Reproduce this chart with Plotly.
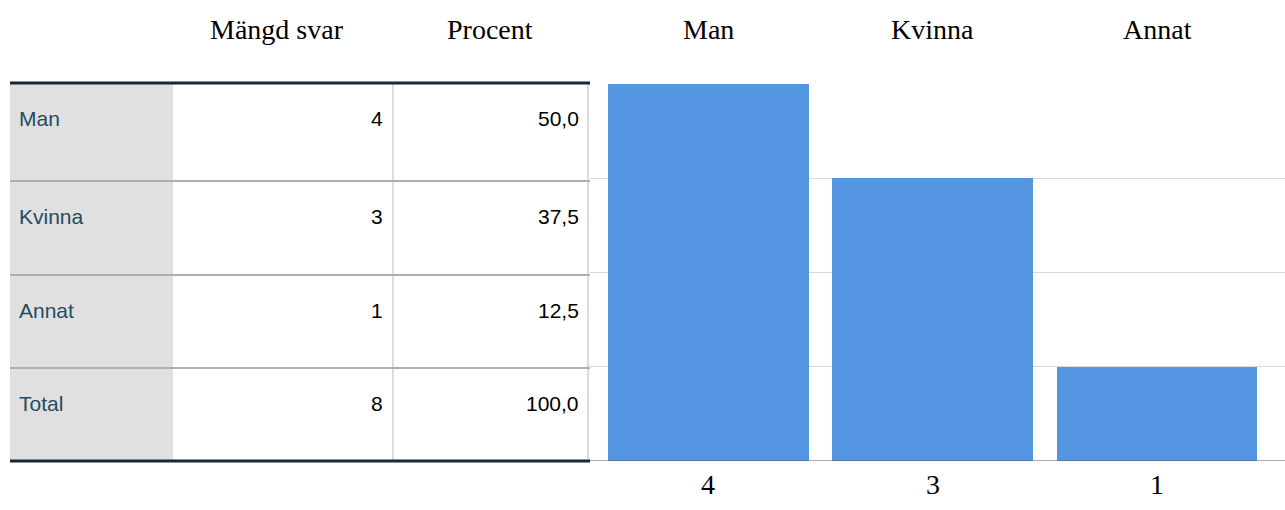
import plotly.graph_objects as go

# Survey answers: gender distribution
categories = ["Man", "Kvinna", "Annat"]
counts = [4, 3, 1]
row_labels = ["Man", "Kvinna", "Annat", "Total"]
row_counts = [4, 3, 1, 8]
row_percents = [50.0, 37.5, 12.5, 100.0]
column_headers = ["Mängd svar", "Procent"]

W, H = 1285, 510
BAR_COLOR = "#5596e3"
LABEL_COLOR = "#264a60"
SERIF = "Liberation Serif, Times New Roman, serif"
SANS = "Liberation Sans, Arial, sans-serif"
SERIF_SIZE = 28
SANS_SIZE = 21


def px(x):
    return x / W


def py(y):
    return 1 - y / H


# table geometry (pixels)
tab_left, tab_right = 10, 590
col_gray_right = 173
col_split = 393
col_right_line = 588
row_edges = [83, 181, 275, 368, 461]

fig = go.Figure()

fig.add_trace(go.Bar(
    x=categories,
    y=counts,
    width=0.895,
    marker=dict(color=BAR_COLOR, line=dict(width=0)),
    hoverinfo="x+y",
))

shapes = []
# gray label column
shapes.append(dict(type="rect", xref="paper", yref="paper",
                   x0=px(tab_left), x1=px(col_gray_right),
                   y0=py(row_edges[-1]), y1=py(row_edges[0]),
                   fillcolor="#e0e0e0", line=dict(width=0), layer="below"))
# vertical separators
for xv in (col_split, col_right_line):
    shapes.append(dict(type="line", xref="paper", yref="paper",
                       x0=px(xv), x1=px(xv),
                       y0=py(row_edges[-1]), y1=py(row_edges[0]),
                       line=dict(color="#dcdcdc", width=2)))
# inner row separators
for yv in row_edges[1:-1]:
    shapes.append(dict(type="line", xref="paper", yref="paper",
                       x0=px(tab_left), x1=px(tab_right),
                       y0=py(yv), y1=py(yv),
                       line=dict(color="#aeaeae", width=2)))
# top and bottom rules
for yv in (row_edges[0], row_edges[-1]):
    shapes.append(dict(type="line", xref="paper", yref="paper",
                       x0=px(tab_left), x1=px(tab_right),
                       y0=py(yv), y1=py(yv),
                       line=dict(color="#152935", width=3)))
# chart baseline
shapes.append(dict(type="line", xref="paper", yref="y",
                   x0=px(590), x1=1, y0=0, y1=0,
                   line=dict(color="#555555", width=1)))

annotations = []
# column headers over the table
for text, cx in zip(column_headers, (277, 490)):
    annotations.append(dict(x=px(cx), y=py(29), xref="paper", yref="paper",
                            text=text, showarrow=False, xanchor="center",
                            yanchor="middle",
                            font=dict(family=SERIF, size=SERIF_SIZE, color="#000000")))
# table body
for i, (lab, c, p) in enumerate(zip(row_labels, row_counts, row_percents)):
    yc = row_edges[i] + 35
    annotations.append(dict(x=px(17), y=py(yc), xref="paper", yref="paper",
                            text=lab, showarrow=False, xanchor="left",
                            yanchor="middle",
                            font=dict(family=SANS, size=SANS_SIZE, color=LABEL_COLOR)))
    annotations.append(dict(x=px(385), y=py(yc), xref="paper", yref="paper",
                            text=str(c), showarrow=False, xanchor="right",
                            yanchor="middle",
                            font=dict(family=SANS, size=SANS_SIZE, color="#000000")))
    annotations.append(dict(x=px(581), y=py(yc), xref="paper", yref="paper",
                            text=f"{p:.1f}".replace(".", ","), showarrow=False,
                            xanchor="right", yanchor="middle",
                            font=dict(family=SANS, size=SANS_SIZE, color="#000000")))
# category names above and counts below the bars
for cat, c in zip(categories, counts):
    annotations.append(dict(x=cat, y=py(29), xref="x", yref="paper",
                            text=cat, showarrow=False, xanchor="center",
                            yanchor="middle",
                            font=dict(family=SERIF, size=SERIF_SIZE, color="#000000")))
    annotations.append(dict(x=cat, y=py(484), xref="x", yref="paper",
                            text=str(c), showarrow=False, xanchor="center",
                            yanchor="middle",
                            font=dict(family=SERIF, size=SERIF_SIZE, color="#000000")))

fig.update_layout(
    width=W, height=H,
    margin=dict(l=0, r=0, t=0, b=0),
    paper_bgcolor="white", plot_bgcolor="white",
    showlegend=False,
    shapes=shapes,
    annotations=annotations,
    xaxis=dict(domain=[px(590), 1], range=[-0.5284, 2.5708],
               showticklabels=False, showgrid=False, zeroline=False,
               ticks="", showline=False, fixedrange=True),
    yaxis=dict(domain=[py(461), py(84)], range=[0, 4], dtick=1,
               showticklabels=False, showgrid=True, gridcolor="#d9d9d9",
               gridwidth=1, zeroline=False, ticks="", showline=False,
               fixedrange=True),
    bargap=0,
)

fig.write_html("out.html")
